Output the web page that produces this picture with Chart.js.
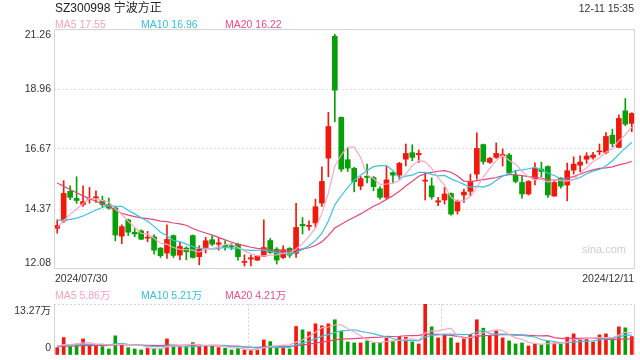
<!DOCTYPE html>
<html>
<head>
<meta charset="utf-8">
<script src="https://cdn.jsdelivr.net/npm/chart.js@4/dist/chart.umd.min.js"></script>
<style>
html,body{margin:0;padding:0;background:#fff;width:640px;height:360px;overflow:hidden;}
body{font-family:"Liberation Sans","Noto Sans CJK SC",Arial,sans-serif;}
#wrap{position:relative;width:640px;height:360px;}
canvas{position:absolute;left:0;}
#c1{top:0;}
#c2{top:282px;}
.t{position:absolute;white-space:nowrap;font-size:10.5px;line-height:12px;color:#333;}
</style>
</head>
<body>
<div id="wrap">
<canvas id="c1" width="640" height="282"></canvas>
<canvas id="c2" width="640" height="78"></canvas>
<div class="t" id="title" style="left:55px;top:1px;font-size:12px;line-height:14px;color:#222;"></div>
<div class="t" id="time" style="right:6px;top:2px;"></div>
<div class="t" id="pm5" style="left:55px;top:18px;"></div>
<div class="t" id="pm10" style="left:141px;top:18px;"></div>
<div class="t" id="pm20" style="left:225px;top:18px;"></div>
<div class="t" id="d0" style="left:55px;top:272px;"></div>
<div class="t" id="d1" style="right:6px;top:272px;"></div>
<div class="t" id="vm5" style="left:55px;top:289px;"></div>
<div class="t" id="vm10" style="left:141px;top:289px;"></div>
<div class="t" id="vm20" style="left:225px;top:289px;"></div>
<div class="t" id="wm" style="left:582px;top:243px;font-size:11px;color:#cfcfcf;">sina.com</div>
</div>
<script>
// ---------- data ----------
const stockTitle = "SZ300998 宁波方正";
const timeStamp = "12-11 15:35";
const dates = [
"2024/07/30","2024/07/31",
"2024/08/01","2024/08/02","2024/08/05","2024/08/06","2024/08/07","2024/08/08","2024/08/09","2024/08/12","2024/08/13","2024/08/14","2024/08/15","2024/08/16","2024/08/19","2024/08/20","2024/08/21","2024/08/22","2024/08/23","2024/08/26","2024/08/27","2024/08/28","2024/08/29","2024/08/30",
"2024/09/02","2024/09/03","2024/09/04","2024/09/05","2024/09/06","2024/09/09","2024/09/10","2024/09/11","2024/09/12","2024/09/13","2024/09/18","2024/09/19","2024/09/20","2024/09/23","2024/09/24","2024/09/25","2024/09/26","2024/09/27","2024/09/30",
"2024/10/08","2024/10/09","2024/10/10","2024/10/11","2024/10/14","2024/10/15","2024/10/16","2024/10/17","2024/10/18","2024/10/21","2024/10/22","2024/10/23","2024/10/24","2024/10/25","2024/10/28","2024/10/29","2024/10/30","2024/10/31",
"2024/11/01","2024/11/04","2024/11/05","2024/11/06","2024/11/07","2024/11/08","2024/11/11","2024/11/12","2024/11/13","2024/11/14","2024/11/15","2024/11/18","2024/11/19","2024/11/20","2024/11/21","2024/11/22","2024/11/25","2024/11/26","2024/11/27","2024/11/28","2024/11/29",
"2024/12/02","2024/12/03","2024/12/04","2024/12/05","2024/12/06","2024/12/09","2024/12/10","2024/12/11"
];
const opens = [
13.64,13.92,15.05,14.78,14.55,14.73,14.80,14.70,14.54,14.42,
13.34,13.96,13.49,13.54,13.26,13.31,12.88,12.69,13.36,12.61,
12.88,13.36,12.55,12.90,13.20,13.03,12.99,12.97,13.03,12.33,
12.46,12.42,12.57,13.17,12.84,12.52,12.87,12.68,13.79,13.71,
13.84,14.60,16.32,20.98,17.88,16.26,15.93,15.25,15.63,15.58,
15.15,14.82,15.77,15.67,16.28,16.53,16.45,15.44,15.26,14.64,
14.72,14.97,14.30,14.91,15.05,15.71,16.84,16.16,16.35,16.42,
16.44,15.67,15.39,14.95,15.52,15.90,16.00,14.87,15.56,15.29,
15.86,16.05,16.28,16.35,16.56,16.54,17.20,16.73,18.13,17.65
];
const highs = [
13.96,15.46,15.26,15.61,15.26,15.20,15.07,14.87,14.79,14.47,
13.77,13.99,13.63,13.58,13.52,13.39,12.90,13.77,13.38,13.11,
12.93,13.38,12.97,13.29,13.35,13.25,13.16,13.06,13.06,12.62,
12.61,12.60,13.96,13.25,12.90,12.97,12.90,14.59,14.05,13.92,
14.75,15.99,18.07,21.06,17.90,16.70,15.97,15.62,16.09,15.62,
15.23,16.00,15.80,16.16,16.86,16.83,16.63,15.75,15.56,14.82,
15.20,14.99,14.72,15.14,15.71,17.29,16.86,16.35,16.90,16.67,
16.50,15.86,15.65,15.46,16.14,16.17,16.03,15.43,15.58,16.13,
16.37,16.41,16.53,16.54,16.86,17.30,17.43,17.98,18.60,18.06
];
const lows = [
13.45,13.86,14.73,14.59,14.47,14.60,14.63,14.44,14.37,13.16,
13.05,13.36,13.31,13.20,13.12,12.65,12.52,12.48,12.52,12.43,
12.43,12.50,12.24,12.69,12.97,12.80,12.80,12.82,12.42,12.19,
12.20,12.40,12.55,12.68,12.27,12.48,12.52,12.52,13.42,13.57,
13.67,14.47,15.61,17.71,15.81,15.81,15.03,15.11,15.37,15.07,
14.75,14.75,15.39,15.52,16.02,16.22,16.16,14.72,14.75,14.50,
14.56,14.14,14.18,14.63,14.88,15.52,16.09,16.12,16.31,16.02,
15.71,15.37,14.79,14.91,15.30,15.61,14.82,14.86,15.17,14.69,
15.71,15.80,16.12,16.28,16.45,16.48,16.76,16.73,17.56,17.33
];
const closes = [
13.75,14.97,14.82,14.70,14.66,14.75,14.84,14.54,14.41,13.38,
13.70,13.49,13.42,13.22,13.30,12.80,12.59,13.21,12.60,12.94,
12.74,12.52,12.84,13.16,13.03,13.08,12.94,12.92,12.55,12.37,
12.51,12.57,12.90,12.71,12.42,12.82,12.61,13.67,13.73,13.75,
14.46,15.43,17.53,18.92,15.90,15.94,15.42,15.54,15.58,15.23,
14.82,15.49,15.67,16.12,16.50,16.35,16.50,15.47,14.84,14.69,
14.95,14.18,14.66,15.02,15.43,16.69,16.19,16.31,16.50,16.46,
15.75,15.43,14.95,15.43,15.94,15.81,14.91,15.39,15.25,15.84,
16.09,16.17,16.40,16.44,16.59,17.15,16.88,17.84,17.62,18.03
];
// closes before the visible window (estimated so the averages start where the picture shows them)
const priorCloses = [17.5,17.3,17.2,17.0,16.9,16.8,16.6,16.4,16.2,16.0,15.0,14.5,14.2,13.9,13.55,13.7,13.6,13.65,13.65];
// volumes in 万
const volumes = [
1.92,4.54,2.18,2.88,4.19,2.36,2.36,2.18,1.57,4.98,
2.88,1.92,1.57,1.31,1.75,1.75,1.57,4.19,2.36,2.18,
2.18,3.23,2.62,2.36,2.36,1.92,1.75,1.31,1.75,1.31,
1.13,1.31,3.93,3.49,1.92,2.36,1.57,7.42,6.55,6.02,
8.12,7.60,8.12,9.17,6.11,3.40,3.14,3.14,3.67,3.14,
3.14,4.45,3.67,4.80,4.63,3.40,2.88,13.27,7.33,4.45,
5.33,4.45,3.14,4.37,5.33,9.17,6.98,4.98,6.29,4.45,
3.67,2.88,3.14,2.36,2.88,2.62,3.67,3.14,2.88,4.63,
5.50,4.19,4.19,3.40,5.24,5.50,4.45,7.33,7.07,4.80
];
const priorVolumes = [2.0,2.1,1.9,2.2,2.0,2.3,1.8,2.1,2.0,1.9,2.2,2.4,2.1,2.3,2.5,2.6,2.2,2.4,2.5];
const priceTicks = [12.08,14.37,16.67,18.96,21.26];
const volumeTicks = [0,13.27];
const maPeriods = [5,10,20];
const priceMaLegend = [17.55,16.96,16.22];
const volumeMaLegend = [5.86,5.21,4.21];

// ---------- style ----------
const RED = '#f2180c', GREEN = '#08a008';
const MA_COLORS = ['#f7a8c4','#38c3e3','#e9457c'];
const MA_TEXT = ['#f7a3c0','#35bfe0','#ec4f83'];
const FONT = '"Liberation Sans","Noto Sans CJK SC",Arial,sans-serif';
Chart.defaults.font.family = FONT;

function movingAverage(values, prior, n){
  const all = prior.concat(values), off = prior.length;
  return values.map((_, i) => {
    let s = 0;
    for (let k = 0; k < n; k++) s += all[off + i - k];
    return s / n;
  });
}

// texts
document.getElementById('title').textContent = stockTitle;
document.getElementById('time').textContent = timeStamp;
document.getElementById('d0').textContent = dates[0];
document.getElementById('d1').textContent = dates[dates.length-1];
['pm5','pm10','pm20'].forEach((id,i)=>{
  const el = document.getElementById(id);
  el.textContent = 'MA' + maPeriods[i] + ' ' + priceMaLegend[i].toFixed(2);
  el.style.color = MA_TEXT[i];
});
['vm5','vm10','vm20'].forEach((id,i)=>{
  const el = document.getElementById(id);
  el.textContent = 'MA' + maPeriods[i] + ' ' + volumeMaLegend[i].toFixed(2) + '万';
  el.style.color = MA_TEXT[i];
});

const candleColors = closes.map((c,i)=> c >= opens[i] ? RED : GREEN);

const framePlugin = {
  id: 'frame',
  afterDraw(chart, args, opts){
    const {ctx, chartArea: a} = chart;
    const x0 = Math.floor(a.left) + 0.5, x1 = Math.round(a.right) - 0.5;
    const y0 = Math.floor(a.top) + 0.5, y1 = Math.round(a.bottom) - 0.5;
    ctx.save();
    ctx.strokeStyle = '#d4d4d4';
    ctx.lineWidth = 1;
    ctx.beginPath();
    ctx.moveTo(x0, y0); ctx.lineTo(x0, y1);
    ctx.moveTo(x1, y0); ctx.lineTo(x1, y1);
    if (opts.full) {
      ctx.moveTo(x0, y0); ctx.lineTo(x1, y0);
      ctx.moveTo(x0, y1); ctx.lineTo(x1, y1);
    }
    ctx.stroke();
    if (opts.thirds) {
      ctx.setLineDash([2,2]);
      ctx.strokeStyle = '#d0d0d0';
      ctx.beginPath();
      for (let k = 1; k < 3; k++) {
        const x = Math.round(a.left + (a.right - a.left) * k / 3) + 0.5;
        ctx.moveTo(x, y0); ctx.lineTo(x, y1);
      }
      ctx.stroke();
    }
    ctx.restore();
  }
};

function edgeLabel(text, index, count){
  if (index === count - 1) return ['', text];
  if (index === 0) return [text, ''];
  return text;
}
function fixAxis(s){
  s.width = 54;
  s.paddingTop = 0;
  s.paddingBottom = 0;
}

// ---------- main chart ----------
const maDatasets = maPeriods.map((n,i)=>({
  type: 'line',
  label: 'MA' + n,
  data: movingAverage(closes, priorCloses, n),
  borderColor: MA_COLORS[i],
  borderWidth: 1.2,
  pointRadius: 0,
  tension: 0,
  order: 0
}));

new Chart(document.getElementById('c1'), {
  type: 'bar',
  data: {
    labels: dates,
    datasets: [
      ...maDatasets,
      { label: 'body', data: opens.map((o,i)=>[o, closes[i]]), backgroundColor: candleColors,
        barThickness: 5, minBarLength: 1, grouped: false, order: 1 },
      { label: 'wick', data: lows.map((l,i)=>[l, highs[i]]), backgroundColor: candleColors,
        barThickness: 1, grouped: false, order: 2 }
    ]
  },
  options: {
    responsive: false, animation: false, devicePixelRatio: 1,
    layout: { padding: { left: 0, right: 5, top: 29, bottom: 13 } },
    plugins: { legend: { display: false }, tooltip: { enabled: false }, frame: { full: true } },
    scales: {
      x: { display: false, offset: true },
      y: {
        min: priceTicks[0], max: priceTicks[priceTicks.length-1],
        afterFit: fixAxis,
        afterBuildTicks(s){ s.ticks = priceTicks.map(v=>({value: v})); },
        ticks: {
          padding: 3, color: '#333', autoSkip: false,
          font: { size: 10.5, lineHeight: 12/10.5 },
          callback: (v, i, t) => edgeLabel(Number(v).toFixed(2), i, t.length)
        },
        grid: {
          drawTicks: false, lineWidth: 1,
          color: c => (c.index === 0 || c.index === priceTicks.length-1) ? 'rgba(0,0,0,0)' : '#e0e0e0'
        },
        border: { display: false, dash: [2,2] }
      }
    }
  },
  plugins: [framePlugin]
});

// ---------- volume chart ----------
const volMaDatasets = maPeriods.map((n,i)=>({
  type: 'line',
  label: 'VMA' + n,
  data: movingAverage(volumes, priorVolumes, n),
  borderColor: MA_COLORS[i],
  borderWidth: 1.2,
  pointRadius: 0,
  tension: 0,
  order: 0
}));

new Chart(document.getElementById('c2'), {
  type: 'bar',
  data: {
    labels: dates,
    datasets: [
      ...volMaDatasets,
      { label: 'volume', data: volumes, backgroundColor: candleColors, barThickness: 3, order: 1 }
    ]
  },
  options: {
    responsive: false, animation: false, devicePixelRatio: 1,
    layout: { padding: { left: 0, right: 5, top: 22, bottom: 5 } },
    plugins: { legend: { display: false }, tooltip: { enabled: false }, frame: { full: false, thirds: true } },
    scales: {
      x: { display: false, offset: true },
      y: {
        min: volumeTicks[0], max: volumeTicks[volumeTicks.length-1],
        afterFit: fixAxis,
        afterBuildTicks(s){ s.ticks = volumeTicks.map(v=>({value: v})); },
        ticks: {
          padding: 3, color: '#333', autoSkip: false,
          font: { size: 10.5, lineHeight: 14/10.5 },
          callback: (v, i, t) => edgeLabel(v === 0 ? '0' : Number(v).toFixed(2) + '万', i, t.length)
        },
        grid: {
          drawTicks: false, lineWidth: 1,
          color: c => (c.index === volumeTicks.length-1) ? '#d4d4d4' : 'rgba(0,0,0,0)'
        },
        border: { display: false, dash: [2,2] }
      }
    }
  },
  plugins: [framePlugin]
});
</script>
</body>
</html>
